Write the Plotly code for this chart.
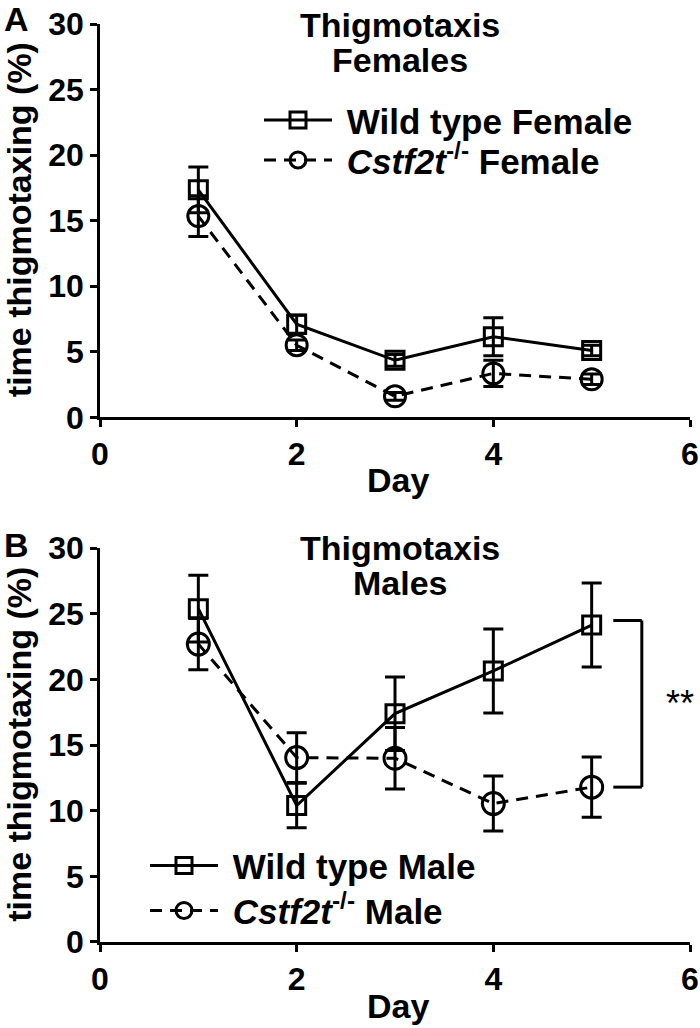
import plotly.graph_objects as go

# Days of testing
days = [1, 2, 3, 4, 5]

# Panel A - females (mean and SEM, % time thigmotaxing)
wt_female = [17.35, 7.1, 4.35, 6.15, 5.1]
wt_female_err = [1.75, 0.7, 0.45, 1.45, 0.4]
ko_female = [15.35, 5.5, 1.6, 3.35, 2.9]
ko_female_err = [1.55, 0.4, 0.3, 1.0, 0.4]

# Panel B - males
wt_male = [25.4, 10.4, 17.4, 20.65, 24.15]
wt_male_err = [2.55, 1.7, 2.8, 3.2, 3.2]
ko_male = [22.7, 14.05, 14.0, 10.55, 11.8]
ko_male_err = [1.95, 1.9, 2.35, 2.1, 2.3]

x_ticks = [0, 2, 4, 6]
y_ticks = [0, 5, 10, 15, 20, 25, 30]

FONT = "Liberation Sans, Arial, Helvetica, sans-serif"

W, H = 700, 1028
M_L, M_R = 100, 10
M_T, M_B = 23.7, 1028 - 942.3
PW, PH = W - M_L - M_R, H - M_T - M_B


# helpers: picture pixels -> paper coordinates
def px(x):
    return (x - M_L) / PW


def py(y):
    return (H - M_B - y) / PH


def series(x, y, err, name, dash, symbol, size, xa, ya, legend):
    return go.Scatter(
        x=x, y=y, name=name, mode="lines+markers",
        xaxis=xa, yaxis=ya, legend=legend,
        line=dict(color="black", width=3, dash=dash),
        marker=dict(symbol=symbol, size=size, color="black",
                    line=dict(width=3, color="black")),
        error_y=dict(type="data", array=err, visible=True,
                     color="black", thickness=3, width=10),
    )


KO = "\u00a0<i>Cstf2t</i><sup>-/-</sup> "
fig = go.Figure()
fig.add_trace(series(days, wt_female, wt_female_err, "\u00a0Wild type Female",
                     "solid", "square-open", 18, "x", "y", "legend"))
fig.add_trace(series(days, ko_female, ko_female_err, KO + "Female",
                     "12px,8px", "circle-open", 21, "x", "y", "legend2"))
fig.add_trace(series(days, wt_male, wt_male_err, "\u00a0Wild type Male",
                     "solid", "square-open", 18, "x2", "y2", "legend3"))
fig.add_trace(series(days, ko_male, ko_male_err, KO + "Male",
                     "12px,8px", "circle-open", 22, "x2", "y2", "legend4"))

axis_common = dict(
    showline=True, linecolor="black", linewidth=2.5,
    ticks="outside", ticklen=7, tickwidth=2.5, tickcolor="black",
    showgrid=False, zeroline=False, ticklabeloverflow="allow",
    tickfont=dict(family=FONT, size=32, color="black", weight="bold"),
)

legend_common = dict(
    font=dict(family=FONT, size=35, color="black", weight="bold"),
    bgcolor="rgba(0,0,0,0)", itemwidth=68,
    xanchor="left", yanchor="middle",
)

fig.update_layout(
    width=W, height=H,
    margin=dict(l=M_L, r=M_R, t=M_T, b=M_B, autoexpand=False),
    plot_bgcolor="white", paper_bgcolor="white",
    font=dict(family=FONT, color="black"),
    showlegend=True,
    xaxis=dict(axis_common, domain=[0, 1], anchor="y", range=[0, 6],
               tickvals=x_ticks),
    yaxis=dict(axis_common, domain=[py(417.3), 1.0], anchor="x",
               range=[0, 30], tickvals=y_ticks),
    xaxis2=dict(axis_common, domain=[0, 1], anchor="y2", range=[0, 6],
                tickvals=x_ticks),
    yaxis2=dict(axis_common, domain=[0, py(548.3)], anchor="x2",
                range=[0, 30], tickvals=y_ticks),
    legend=dict(legend_common, x=px(259), y=py(120)),
    legend2=dict(legend_common, x=px(259), y=py(160)),
    legend3=dict(legend_common, x=px(145), y=py(866)),
    legend4=dict(legend_common, x=px(145), y=py(911)),
)

# Significance bracket between day 5 means (males)
br_x0, br_x1 = 5.22, 5.51
top, bot = wt_male[-1] + 0.35, ko_male[-1]
for x0, y0, x1, y1 in [(br_x0, top, br_x1, top), (br_x1, top, br_x1, bot),
                       (br_x0, bot, br_x1, bot)]:
    fig.add_shape(type="line", xref="x2", yref="y2", x0=x0, y0=y0,
                  x1=x1, y1=y1, line=dict(color="black", width=3))

bold = dict(family=FONT, size=34, color="black", weight="bold")
annotations = [
    dict(text="A", x=px(16), y=py(19)),
    dict(text="B", x=px(16), y=py(545)),
    dict(text="Thigmotaxis", x=px(400), y=py(25)),
    dict(text="Females", x=px(400), y=py(60)),
    dict(text="Thigmotaxis", x=px(400), y=py(548)),
    dict(text="Males", x=px(400), y=py(583)),
    dict(text="Day", x=px(398), y=py(480)),
    dict(text="Day", x=px(398), y=py(1006)),
    dict(text="time thigmotaxing (%)", x=px(19), y=py(220), textangle=-90),
    dict(text="time thigmotaxing (%)", x=px(19), y=py(745), textangle=-90),
]
for a in annotations:
    fig.add_annotation(xref="paper", yref="paper", showarrow=False,
                       xanchor="center", yanchor="middle", font=bold, **a)

fig.add_annotation(xref="x2", yref="y2", x=5.9, y=(top + bot) / 2,
                   text="**", showarrow=False, xanchor="center",
                   yanchor="middle",
                   font=dict(family=FONT, size=36, color="black"))

# drop the default body margin so the 700x1028 figure fills the window
fig.write_html(
    "out.html",
    config={"displayModeBar": False},
    post_script="document.body.style.margin='0';"
                "document.body.style.overflow='hidden';",
)
